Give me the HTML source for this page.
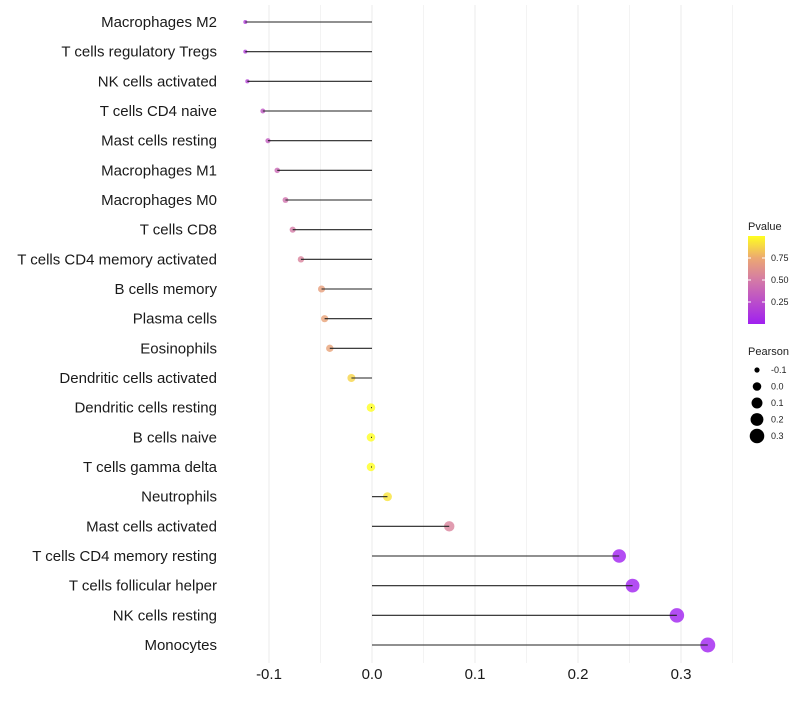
<!DOCTYPE html>
<html><head><meta charset="utf-8"><style>
body{margin:0;background:#fff;font-family:"Liberation Sans",sans-serif}
</style></head><body>
<svg id="chart" width="800" height="700" xmlns="http://www.w3.org/2000/svg">
<defs><linearGradient id="pg" x1="0" y1="1" x2="0" y2="0">
<stop offset="0" stop-color="#a020f0"/><stop offset="0.5" stop-color="#d47aa6"/><stop offset="0.75" stop-color="#eca872"/><stop offset="1" stop-color="#ffff20"/></linearGradient></defs>
<g id="grid"></g><g id="points"></g><g id="marks"></g><g id="labels"></g><g id="legend"></g>
</svg>
<script>
const categories=["Macrophages M2","T cells regulatory  Tregs","NK cells activated","T cells CD4 naive","Mast cells resting","Macrophages M1","Macrophages M0","T cells CD8","T cells CD4 memory activated","B cells memory","Plasma cells","Eosinophils","Dendritic cells activated","Dendritic cells resting","B cells naive","T cells gamma delta","Neutrophils","Mast cells activated","T cells CD4 memory resting","T cells follicular helper","NK cells resting","Monocytes"];
const pearson=[-0.123,-0.123,-0.121,-0.106,-0.101,-0.092,-0.084,-0.077,-0.069,-0.049,-0.046,-0.041,-0.020,-0.001,-0.001,-0.001,0.015,0.075,0.240,0.253,0.296,0.326];
const pvalue=[0.15,0.15,0.18,0.3,0.33,0.4,0.45,0.5,0.55,0.7,0.72,0.72,0.88,1.0,1.0,1.0,0.92,0.55,0.0,0.0,0.0,0.0];
const xTicks=[-0.1,0,0.1,0.2,0.3];
const xTickLabels=["-0.1","0.0","0.1","0.2","0.3"];
const sizeLegend=[-0.1,0,0.1,0.2,0.3];
const NS="http://www.w3.org/2000/svg";
const x=v=>372+v*1030;
const y=i=>22+i*(623/21);
const r=v=>Math.sqrt(Math.max(1,18.25+115.8*v));
function col(p){const s=[[0,[160,32,240]],[0.5,[212,122,166]],[0.75,[236,168,114]],[1,[255,255,32]]];
for(let k=1;k<s.length;k++){if(p<=s[k][0]){const t=(p-s[k-1][0])/(s[k][0]-s[k-1][0]);const a=s[k-1][1],b=s[k][1];return `rgb(${a.map((c,j)=>Math.round(c+(b[j]-c)*t)).join(',')})`;}}return "rgb(255,255,32)";}
function mk(tag,at,parent,txt){const e=document.createElementNS(NS,tag);for(const k in at)e.setAttribute(k,at[k]);if(txt!==undefined)e.textContent=txt;document.getElementById(parent).appendChild(e);return e;}
for(let v=-0.1;v<=0.351;v+=0.05){const e=mk('line',{x1:x(v),x2:x(v),y1:5,y2:663,stroke:'#ebebeb','stroke-width':Math.abs(Math.round(v*20))%2?0.6:1},'grid');

}
xTicks.forEach((v,i)=>{const t=mk('text',{x:x(v),y:679,'text-anchor':'middle','font-size':15,fill:'#1a1a1a'},'labels',xTickLabels[i]);

});
categories.forEach((c,i)=>{const t=mk('text',{x:217,y:y(i)+5,'text-anchor':'end','font-size':15,fill:'#1a1a1a'},'labels',c);


const d=mk('circle',{cx:x(pearson[i]),cy:y(i),r:r(pearson[i]),fill:col(pvalue[i]),'fill-opacity':0.8},'points');


const l=mk('line',{x1:x(0),x2:x(pearson[i]),y1:y(i),y2:y(i),stroke:'#222','stroke-width':1.1},'marks');

});
let g;
g=mk('text',{x:748,y:230,'font-size':11,fill:'#222'},'legend','Pvalue');
g=mk('rect',{x:748,y:236,width:17,height:88,fill:'url(#pg)'},'legend');
[[0.75,'0.75'],[0.5,'0.50'],[0.25,'0.25']].forEach(([p,s])=>{const yy=324-p*88;
mk('line',{x1:748,x2:751,y1:yy,y2:yy,stroke:'#fff'},'legend');mk('line',{x1:762,x2:765,y1:yy,y2:yy,stroke:'#fff'},'legend');
const t=mk('text',{x:771,y:yy+3,'font-size':9,fill:'#222'},'legend',s);});
g=mk('text',{x:748,y:355,'font-size':11,fill:'#222'},'legend','Pearson');
sizeLegend.forEach((v,i)=>{const yy=370+i*16.5;
const c=mk('circle',{cx:757,cy:yy,r:r(v),fill:'#000'},'legend');
const t=mk('text',{x:771,y:yy+3,'font-size':9,fill:'#222'},'legend',xTickLabels[i]);});
</script>
</body></html>
